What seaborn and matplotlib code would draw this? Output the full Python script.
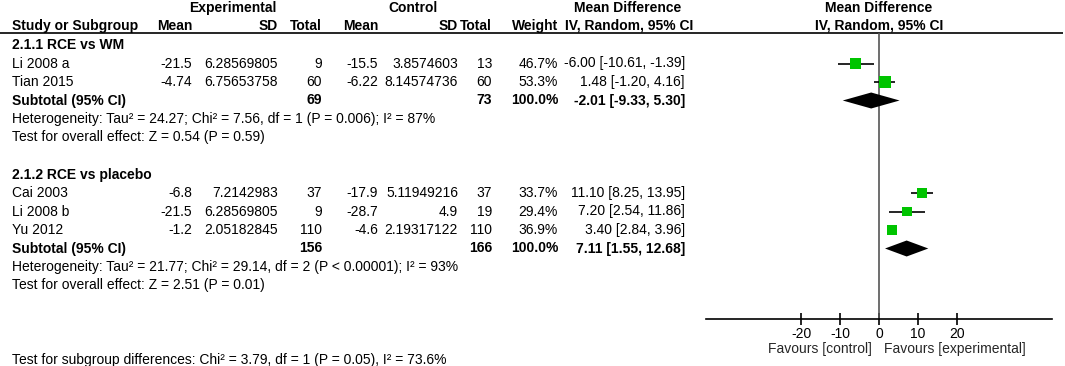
import numpy as np
import pandas as pd
import matplotlib
matplotlib.use("Agg")
import matplotlib.pyplot as plt
import seaborn as sns

# ---- data ----
studies = ["Li 2008 a", "Tian 2015", "Cai 2003", "Li 2008 b", "Yu 2012"]
subgroup = ["2.1.1 RCE vs WM", "2.1.1 RCE vs WM",
            "2.1.2 RCE vs placebo", "2.1.2 RCE vs placebo", "2.1.2 RCE vs placebo"]
exp_mean = ["-21.5", "-4.74", "-6.8", "-21.5", "-1.2"]
exp_sd = ["6.28569805", "6.75653758", "7.2142983", "6.28569805", "2.05182845"]
exp_n = [9, 60, 37, 9, 110]
ctl_mean = ["-15.5", "-6.22", "-17.9", "-28.7", "-4.6"]
ctl_sd = ["3.8574603", "8.14574736", "5.11949216", "4.9", "2.19317122"]
ctl_n = [13, 60, 37, 19, 110]
weight = [46.7, 53.3, 33.7, 29.4, 36.9]
md = [-6.00, 1.48, 11.10, 7.20, 3.40]
ci_lo = [-10.61, -1.20, 8.25, 2.54, 2.84]
ci_hi = [-1.39, 4.16, 13.95, 11.86, 3.96]

groups = ["2.1.1 RCE vs WM", "2.1.2 RCE vs placebo"]
sub_exp_n = [69, 156]
sub_ctl_n = [73, 166]
sub_md = [-2.01, 7.11]
sub_lo = [-9.33, 1.55]
sub_hi = [5.30, 12.68]
heterogeneity = [
    "Heterogeneity: Tau\u00b2 = 24.27; Chi\u00b2 = 7.56, df = 1 (P = 0.006); I\u00b2 = 87%",
    "Heterogeneity: Tau\u00b2 = 21.77; Chi\u00b2 = 29.14, df = 2 (P < 0.00001); I\u00b2 = 93%",
]
overall = ["Test for overall effect: Z = 0.54 (P = 0.59)",
           "Test for overall effect: Z = 2.51 (P = 0.01)"]
subgroup_test = "Test for subgroup differences: Chi\u00b2 = 3.79, df = 1 (P = 0.05), I\u00b2 = 73.6%"
ticks = [-20, -10, 0, 10, 20]

df = pd.DataFrame({"study": studies, "group": subgroup, "md": md,
                   "lo": ci_lo, "hi": ci_hi, "weight": weight})

# ---- layout ----
W, H = 1065, 366
sns.set_theme(style="white")
plt.rcParams["font.family"] = ["Liberation Sans", "DejaVu Sans"]
fs = 10
green = "#00C400"

fig = plt.figure(figsize=(W / 100, H / 100), dpi=100)
ax_t = fig.add_axes([0, 0, 1, 1])
ax_t.set_xlim(0, W)
ax_t.set_ylim(H, 0)
ax_t.axis("off")

x_left, x_right = 706, 1052
ax_f = fig.add_axes([x_left / W, 0, (x_right - x_left) / W, 1])
ax_f.set_ylim(H, 0)
ax_f.set_xlim(-44.5, 44.5)
ax_f.patch.set_alpha(0)

row0, step = 45, 18.5
col = {"mean_e": 192, "sd_e": 278, "n_e": 322, "mean_c": 378, "sd_c": 458,
       "n_c": 492, "w": 558, "md": 685}

def txt(x, y, s, ha="left", bold=False):
    ax_t.text(x, y, s, ha=ha, va="center", fontsize=fs,
              fontweight="bold" if bold else "normal", color="black")

# headers
txt(233, 8, "Experimental", ha="center", bold=True)
txt(413, 8, "Control", ha="center", bold=True)
txt(628, 8, "Mean Difference", ha="center", bold=True)
txt(879, 8, "Mean Difference", ha="center", bold=True)
txt(12, 26, "Study or Subgroup", bold=True)
for key, lab in [("mean_e", "Mean"), ("sd_e", "SD"), ("n_e", "Total"),
                 ("mean_c", "Mean"), ("sd_c", "SD"), ("n_c", "Total"),
                 ("w", "Weight")]:
    txt(col[key], 26, lab, ha="right", bold=True)
txt(629, 26, "IV, Random, 95% CI", ha="center", bold=True)
txt(879, 26, "IV, Random, 95% CI", ha="center", bold=True)
ax_t.hlines(33, 0, 1063, color="black", lw=1.2)

# rows
row = 0
study_y = []
sub_y = []
for g, grp in enumerate(groups):
    txt(12, row0 + step * row, grp, bold=True)
    row += 1
    for i in df.index[df["group"] == grp]:
        y = row0 + step * row
        study_y.append(y)
        txt(12, y, studies[i])
        txt(col["mean_e"], y, exp_mean[i], ha="right")
        txt(col["sd_e"], y, exp_sd[i], ha="right")
        txt(col["n_e"], y, str(exp_n[i]), ha="right")
        txt(col["mean_c"], y, ctl_mean[i], ha="right")
        txt(col["sd_c"], y, ctl_sd[i], ha="right")
        txt(col["n_c"], y, str(ctl_n[i]), ha="right")
        txt(col["w"], y, f"{weight[i]:.1f}%", ha="right")
        txt(col["md"], y, f"{md[i]:.2f} [{ci_lo[i]:.2f}, {ci_hi[i]:.2f}]", ha="right")
        row += 1
    y = row0 + step * row
    sub_y.append(y)
    txt(12, y, "Subtotal (95% CI)", bold=True)
    txt(col["n_e"], y, str(sub_exp_n[g]), ha="right", bold=True)
    txt(col["n_c"], y, str(sub_ctl_n[g]), ha="right", bold=True)
    txt(col["w"], y, "100.0%", ha="right", bold=True)
    txt(col["md"], y, f"{sub_md[g]:.2f} [{sub_lo[g]:.2f}, {sub_hi[g]:.2f}]",
        ha="right", bold=True)
    row += 1
    txt(12, row0 + step * row, heterogeneity[g])
    row += 1
    txt(12, row0 + step * row, overall[g])
    row += 2

txt(12, 360, subgroup_test)

# ---- forest panel ----
axis_y = 319
df["y"] = study_y
ax_f.vlines(0, 33, axis_y, color="#555555", lw=1.2)
ax_f.hlines(df["y"], df["lo"], df["hi"], color="black", lw=1.2)
sns.scatterplot(data=df, x="md", y="y", size="weight",
                sizes={w: 1.5 * w for w in weight}, marker="s",
                color=green, edgecolor="none", linewidth=0, legend=False,
                ax=ax_f, zorder=3)
half_h = 8
for g in range(len(groups)):
    yy = sub_y[g]
    ax_f.fill([sub_lo[g], sub_md[g], sub_hi[g], sub_md[g]],
              [yy, yy - half_h, yy, yy + half_h], color="black", lw=0, zorder=3)

ax_f.set_xlabel("")
ax_f.set_ylabel("")
ax_f.set_yticks([])
for s in ["left", "right", "top"]:
    ax_f.spines[s].set_visible(False)
ax_f.spines["bottom"].set_position(("data", axis_y))
ax_f.spines["bottom"].set_color("black")
ax_f.spines["bottom"].set_linewidth(1.2)
ax_f.set_xticks(ticks)
ax_f.set_xticklabels([str(t) for t in ticks])
ax_f.tick_params(axis="x", direction="inout", length=9, width=1.2,
                 labelsize=fs, pad=1, colors="black", bottom=True)
ax_f.text(-1.8, 349, "Favours [control]", ha="right", va="center", fontsize=fs)
ax_f.text(1.3, 349, "Favours [experimental]", ha="left", va="center", fontsize=fs)

fig.savefig("out.png", dpi=100)
